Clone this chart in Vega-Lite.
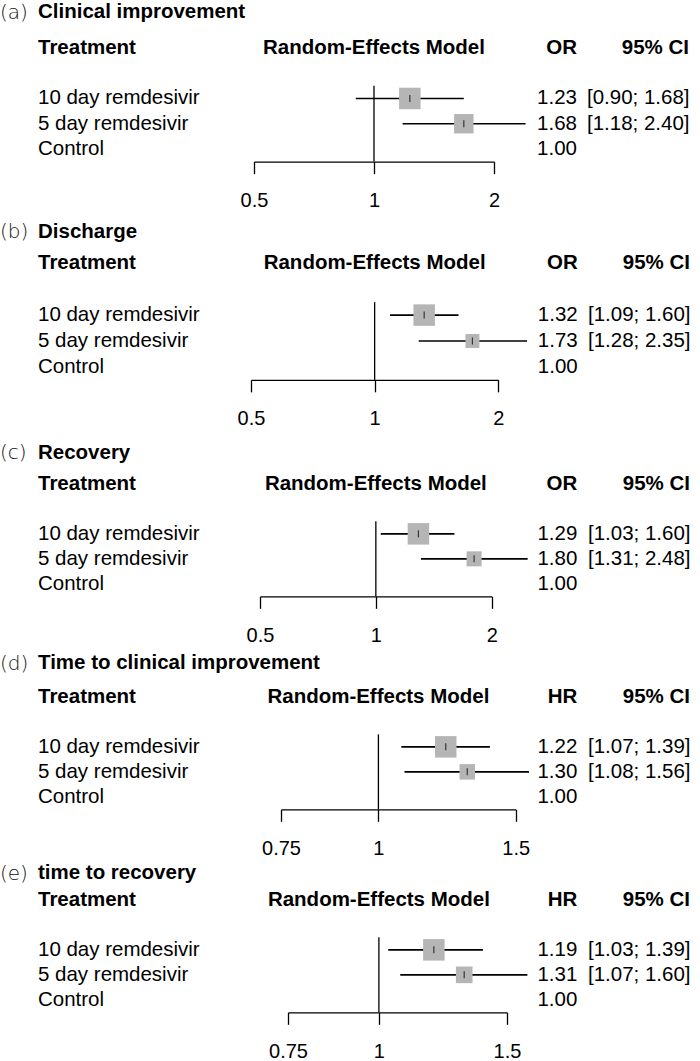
{
"$schema": "https://vega.github.io/schema/vega-lite/v6.json",
"padding": {"left": 0, "top": 2.35, "right": 0, "bottom": 0},
"datasets": {
"a": [{"treatment":"10 day remdesivir","est":1.23,"lo":0.90,"hi":1.68,"weight":100,"ci":"[0.90; 1.68]"},{"treatment":"5 day remdesivir","est":1.68,"lo":1.18,"hi":2.40,"weight":82,"ci":"[1.18; 2.40]"},{"treatment":"Control","est":1.00,"ci":""}],
"b": [{"treatment":"10 day remdesivir","est":1.32,"lo":1.09,"hi":1.60,"weight":100,"ci":"[1.09; 1.60]"},{"treatment":"5 day remdesivir","est":1.73,"lo":1.28,"hi":2.35,"weight":42,"ci":"[1.28; 2.35]"},{"treatment":"Control","est":1.00,"ci":""}],
"c": [{"treatment":"10 day remdesivir","est":1.29,"lo":1.03,"hi":1.60,"weight":100,"ci":"[1.03; 1.60]"},{"treatment":"5 day remdesivir","est":1.80,"lo":1.31,"hi":2.48,"weight":49,"ci":"[1.31; 2.48]"},{"treatment":"Control","est":1.00,"ci":""}],
"d": [{"treatment":"10 day remdesivir","est":1.22,"lo":1.07,"hi":1.39,"weight":100,"ci":"[1.07; 1.39]"},{"treatment":"5 day remdesivir","est":1.30,"lo":1.08,"hi":1.56,"weight":52,"ci":"[1.08; 1.56]"},{"treatment":"Control","est":1.00,"ci":""}],
"e": [{"treatment":"10 day remdesivir","est":1.19,"lo":1.03,"hi":1.39,"weight":100,"ci":"[1.03; 1.39]"},{"treatment":"5 day remdesivir","est":1.31,"lo":1.07,"hi":1.60,"weight":60,"ci":"[1.07; 1.60]"},{"treatment":"Control","est":1.00,"ci":""}]
},
"spacing": 0,
"bounds": "full",
"vconcat": [
{"spacing": 10, "bounds": "flush", "hconcat": [
{"width":28,"height":185.95,"data":{"values":[]},"mark":"point","title":{"text":"(a)","anchor":"start","frame":"group","font":"DejaVu Sans","fontWeight":200,"fontSize":20,"color":"#111","baseline":"alphabetic","offset":-3.6}},
{"width":206,"height":126.25,"title":{"text":"Clinical improvement","anchor":"start","frame":"group","fontWeight":"bold","fontSize":20.5,"color":"#000","baseline":"alphabetic","offset":-3.6},
 "layer":[
  {"data":{"name":"a"},"mark":{"type":"text","align":"left","baseline":"middle"},"encoding":{"x":{"datum":0,"type":"quantitative","scale":{"domain":[0,1]},"axis":null},"y":{"field":"treatment","type":"nominal","scale":{"type":"band","domain":["header","gap","10 day remdesivir","5 day remdesivir","Control"],"paddingInner":0,"paddingOuter":0},"axis":null},"text":{"field":"treatment"}}},
  {"data":{"values":[{"h":"Treatment"}]},"mark":{"type":"text","align":"left","baseline":"middle","fontWeight":"bold"},"encoding":{"x":{"datum":0,"type":"quantitative","scale":{"domain":[0,1]},"axis":null},"y":{"datum":"header","type":"nominal","scale":{"type":"band","domain":["header","gap","10 day remdesivir","5 day remdesivir","Control"],"paddingInner":0,"paddingOuter":0},"axis":null},"text":{"field":"h"}}}
 ]},
{"width":240,"height":126.25,
 "layer":[
  {"data":{"values":[{"from":"10 day remdesivir","to":"Control","ref":1}]},"mark":{"type":"rule","color":"#000","strokeWidth":1.3},"encoding":{"x":{"field":"ref","type":"quantitative","scale":{"type":"log","domain":[0.5,2],"nice":false,"zero":false},"axis":{"values":[0.5,1,2],"format":"~g","title":null}},"y":{"field":"from","type":"nominal","bandPosition":0,"scale":{"type":"band","domain":["header","gap","10 day remdesivir","5 day remdesivir","Control"],"paddingInner":0,"paddingOuter":0},"axis":null},"y2":{"field":"to","bandPosition":1}}},
  {"data":{"name":"a"},"transform":[{"filter":"isValid(datum.lo)"}],"mark":{"type":"rule","color":"#000","strokeWidth":1.6},"encoding":{"x":{"field":"lo","type":"quantitative","scale":{"type":"log","domain":[0.5,2],"nice":false,"zero":false},"axis":{"values":[0.5,1,2],"format":"~g","title":null}},"x2":{"field":"hi"},"y":{"field":"treatment","type":"nominal","scale":{"type":"band","domain":["header","gap","10 day remdesivir","5 day remdesivir","Control"],"paddingInner":0,"paddingOuter":0},"axis":null}}},
  {"data":{"name":"a"},"transform":[{"filter":"isValid(datum.lo)"}],"mark":{"type":"square","filled":true,"color":"#b5b5b5","opacity":1},"encoding":{"x":{"field":"est","type":"quantitative","scale":{"type":"log","domain":[0.5,2],"nice":false,"zero":false},"axis":{"values":[0.5,1,2],"format":"~g","title":null}},"y":{"field":"treatment","type":"nominal","scale":{"type":"band","domain":["header","gap","10 day remdesivir","5 day remdesivir","Control"],"paddingInner":0,"paddingOuter":0},"axis":null},"size":{"field":"weight","type":"quantitative","scale":{"domain":[0,100],"range":[0,462],"zero":true},"legend":null}}},
  {"data":{"name":"a"},"transform":[{"filter":"isValid(datum.lo)"}],"mark":{"type":"tick","color":"#000","size":7,"thickness":1.2,"orient":"vertical"},"encoding":{"x":{"field":"est","type":"quantitative","scale":{"type":"log","domain":[0.5,2],"nice":false,"zero":false},"axis":{"values":[0.5,1,2],"format":"~g","title":null}},"y":{"field":"treatment","type":"nominal","scale":{"type":"band","domain":["header","gap","10 day remdesivir","5 day remdesivir","Control"],"paddingInner":0,"paddingOuter":0},"axis":null}}},
  {"data":{"values":[{"h":"Random-Effects Model","ref":1}]},"mark":{"type":"text","align":"center","baseline":"middle","fontWeight":"bold"},"encoding":{"x":{"field":"ref","type":"quantitative","scale":{"type":"log","domain":[0.5,2],"nice":false,"zero":false},"axis":{"values":[0.5,1,2],"format":"~g","title":null}},"y":{"datum":"header","type":"nominal","scale":{"type":"band","domain":["header","gap","10 day remdesivir","5 day remdesivir","Control"],"paddingInner":0,"paddingOuter":0},"axis":null},"text":{"field":"h"}}}
 ]},
{"width":73,"height":126.25,
 "layer":[
  {"data":{"name":"a"},"mark":{"type":"text","align":"right","baseline":"middle"},"encoding":{"x":{"datum":1,"type":"quantitative","scale":{"domain":[0,1]},"axis":null},"y":{"field":"treatment","type":"nominal","scale":{"type":"band","domain":["header","gap","10 day remdesivir","5 day remdesivir","Control"],"paddingInner":0,"paddingOuter":0},"axis":null},"text":{"field":"est","type":"quantitative","format":".2f"}}},
  {"data":{"values":[{"h":"OR"}]},"mark":{"type":"text","align":"right","baseline":"middle","fontWeight":"bold"},"encoding":{"x":{"datum":1,"type":"quantitative","scale":{"domain":[0,1]},"axis":null},"y":{"datum":"header","type":"nominal","scale":{"type":"band","domain":["header","gap","10 day remdesivir","5 day remdesivir","Control"],"paddingInner":0,"paddingOuter":0},"axis":null},"text":{"field":"h"}}}
 ]},
{"width":102,"height":126.25,
 "layer":[
  {"data":{"name":"a"},"mark":{"type":"text","align":"left","baseline":"middle"},"encoding":{"x":{"datum":0,"type":"quantitative","scale":{"domain":[0,1]},"axis":null},"y":{"field":"treatment","type":"nominal","scale":{"type":"band","domain":["header","gap","10 day remdesivir","5 day remdesivir","Control"],"paddingInner":0,"paddingOuter":0},"axis":null},"text":{"field":"ci"}}},
  {"data":{"values":[{"h":"95% CI"}]},"mark":{"type":"text","align":"right","baseline":"middle","fontWeight":"bold"},"encoding":{"x":{"datum":1,"type":"quantitative","scale":{"domain":[0,1]},"axis":null},"y":{"datum":"header","type":"nominal","scale":{"type":"band","domain":["header","gap","10 day remdesivir","5 day remdesivir","Control"],"paddingInner":0,"paddingOuter":0},"axis":null},"text":{"field":"h"}}}
 ]}
]},

{"spacing": 10, "bounds": "flush", "hconcat": [
{"width":28,"height":191.05,"data":{"values":[]},"mark":"point","title":{"text":"(b)","anchor":"start","frame":"group","font":"DejaVu Sans","fontWeight":200,"fontSize":20,"color":"#111","baseline":"alphabetic","offset":-8}},
{"width":203,"height":129.5,"title":{"text":"Discharge","anchor":"start","frame":"group","fontWeight":"bold","fontSize":20.5,"color":"#000","baseline":"alphabetic","offset":-8},
 "layer":[
  {"data":{"name":"b"},"mark":{"type":"text","align":"left","baseline":"middle"},"encoding":{"x":{"datum":0,"type":"quantitative","scale":{"domain":[0,1]},"axis":null},"y":{"field":"treatment","type":"nominal","scale":{"type":"band","domain":["header","gap","10 day remdesivir","5 day remdesivir","Control"],"paddingInner":0,"paddingOuter":0},"axis":null},"text":{"field":"treatment"}}},
  {"data":{"values":[{"h":"Treatment"}]},"mark":{"type":"text","align":"left","baseline":"middle","fontWeight":"bold"},"encoding":{"x":{"datum":0,"type":"quantitative","scale":{"domain":[0,1]},"axis":null},"y":{"datum":"header","type":"nominal","scale":{"type":"band","domain":["header","gap","10 day remdesivir","5 day remdesivir","Control"],"paddingInner":0,"paddingOuter":0},"axis":null},"text":{"field":"h"}}}
 ]},
{"width":247.3,"height":129.5,
 "layer":[
  {"data":{"values":[{"from":"10 day remdesivir","to":"Control","ref":1}]},"mark":{"type":"rule","color":"#000","strokeWidth":1.3},"encoding":{"x":{"field":"ref","type":"quantitative","scale":{"type":"log","domain":[0.5,2],"nice":false,"zero":false},"axis":{"values":[0.5,1,2],"format":"~g","title":null}},"y":{"field":"from","type":"nominal","bandPosition":0,"scale":{"type":"band","domain":["header","gap","10 day remdesivir","5 day remdesivir","Control"],"paddingInner":0,"paddingOuter":0},"axis":null},"y2":{"field":"to","bandPosition":1}}},
  {"data":{"name":"b"},"transform":[{"filter":"isValid(datum.lo)"}],"mark":{"type":"rule","color":"#000","strokeWidth":1.6},"encoding":{"x":{"field":"lo","type":"quantitative","scale":{"type":"log","domain":[0.5,2],"nice":false,"zero":false},"axis":{"values":[0.5,1,2],"format":"~g","title":null}},"x2":{"field":"hi"},"y":{"field":"treatment","type":"nominal","scale":{"type":"band","domain":["header","gap","10 day remdesivir","5 day remdesivir","Control"],"paddingInner":0,"paddingOuter":0},"axis":null}}},
  {"data":{"name":"b"},"transform":[{"filter":"isValid(datum.lo)"}],"mark":{"type":"square","filled":true,"color":"#b5b5b5","opacity":1},"encoding":{"x":{"field":"est","type":"quantitative","scale":{"type":"log","domain":[0.5,2],"nice":false,"zero":false},"axis":{"values":[0.5,1,2],"format":"~g","title":null}},"y":{"field":"treatment","type":"nominal","scale":{"type":"band","domain":["header","gap","10 day remdesivir","5 day remdesivir","Control"],"paddingInner":0,"paddingOuter":0},"axis":null},"size":{"field":"weight","type":"quantitative","scale":{"domain":[0,100],"range":[0,462],"zero":true},"legend":null}}},
  {"data":{"name":"b"},"transform":[{"filter":"isValid(datum.lo)"}],"mark":{"type":"tick","color":"#000","size":7,"thickness":1.2,"orient":"vertical"},"encoding":{"x":{"field":"est","type":"quantitative","scale":{"type":"log","domain":[0.5,2],"nice":false,"zero":false},"axis":{"values":[0.5,1,2],"format":"~g","title":null}},"y":{"field":"treatment","type":"nominal","scale":{"type":"band","domain":["header","gap","10 day remdesivir","5 day remdesivir","Control"],"paddingInner":0,"paddingOuter":0},"axis":null}}},
  {"data":{"values":[{"h":"Random-Effects Model","ref":1}]},"mark":{"type":"text","align":"center","baseline":"middle","fontWeight":"bold"},"encoding":{"x":{"field":"ref","type":"quantitative","scale":{"type":"log","domain":[0.5,2],"nice":false,"zero":false},"axis":{"values":[0.5,1,2],"format":"~g","title":null}},"y":{"datum":"header","type":"nominal","scale":{"type":"band","domain":["header","gap","10 day remdesivir","5 day remdesivir","Control"],"paddingInner":0,"paddingOuter":0},"axis":null},"text":{"field":"h"}}}
 ]},
{"width":68.7,"height":129.5,
 "layer":[
  {"data":{"name":"b"},"mark":{"type":"text","align":"right","baseline":"middle"},"encoding":{"x":{"datum":1,"type":"quantitative","scale":{"domain":[0,1]},"axis":null},"y":{"field":"treatment","type":"nominal","scale":{"type":"band","domain":["header","gap","10 day remdesivir","5 day remdesivir","Control"],"paddingInner":0,"paddingOuter":0},"axis":null},"text":{"field":"est","type":"quantitative","format":".2f"}}},
  {"data":{"values":[{"h":"OR"}]},"mark":{"type":"text","align":"right","baseline":"middle","fontWeight":"bold"},"encoding":{"x":{"datum":1,"type":"quantitative","scale":{"domain":[0,1]},"axis":null},"y":{"datum":"header","type":"nominal","scale":{"type":"band","domain":["header","gap","10 day remdesivir","5 day remdesivir","Control"],"paddingInner":0,"paddingOuter":0},"axis":null},"text":{"field":"h"}}}
 ]},
{"width":102,"height":129.5,
 "layer":[
  {"data":{"name":"b"},"mark":{"type":"text","align":"left","baseline":"middle"},"encoding":{"x":{"datum":0,"type":"quantitative","scale":{"domain":[0,1]},"axis":null},"y":{"field":"treatment","type":"nominal","scale":{"type":"band","domain":["header","gap","10 day remdesivir","5 day remdesivir","Control"],"paddingInner":0,"paddingOuter":0},"axis":null},"text":{"field":"ci"}}},
  {"data":{"values":[{"h":"95% CI"}]},"mark":{"type":"text","align":"right","baseline":"middle","fontWeight":"bold"},"encoding":{"x":{"datum":1,"type":"quantitative","scale":{"domain":[0,1]},"axis":null},"y":{"datum":"header","type":"nominal","scale":{"type":"band","domain":["header","gap","10 day remdesivir","5 day remdesivir","Control"],"paddingInner":0,"paddingOuter":0},"axis":null},"text":{"field":"h"}}}
 ]}
]},

{"spacing": 10, "bounds": "flush", "hconcat": [
{"width":28,"height":181.25,"data":{"values":[]},"mark":"point","title":{"text":"(c)","anchor":"start","frame":"group","font":"DejaVu Sans","fontWeight":200,"fontSize":20,"color":"#111","baseline":"alphabetic","offset":-7.9}},
{"width":212,"height":125,"title":{"text":"Recovery","anchor":"start","frame":"group","fontWeight":"bold","fontSize":20.5,"color":"#000","baseline":"alphabetic","offset":-7.9},
 "layer":[
  {"data":{"name":"c"},"mark":{"type":"text","align":"left","baseline":"middle"},"encoding":{"x":{"datum":0,"type":"quantitative","scale":{"domain":[0,1]},"axis":null},"y":{"field":"treatment","type":"nominal","scale":{"type":"band","domain":["header","gap","10 day remdesivir","5 day remdesivir","Control"],"paddingInner":0,"paddingOuter":0},"axis":null},"text":{"field":"treatment"}}},
  {"data":{"values":[{"h":"Treatment"}]},"mark":{"type":"text","align":"left","baseline":"middle","fontWeight":"bold"},"encoding":{"x":{"datum":0,"type":"quantitative","scale":{"domain":[0,1]},"axis":null},"y":{"datum":"header","type":"nominal","scale":{"type":"band","domain":["header","gap","10 day remdesivir","5 day remdesivir","Control"],"paddingInner":0,"paddingOuter":0},"axis":null},"text":{"field":"h"}}}
 ]},
{"width":231.7,"height":125,
 "layer":[
  {"data":{"values":[{"from":"10 day remdesivir","to":"Control","ref":1}]},"mark":{"type":"rule","color":"#000","strokeWidth":1.3},"encoding":{"x":{"field":"ref","type":"quantitative","scale":{"type":"log","domain":[0.5,2],"nice":false,"zero":false},"axis":{"values":[0.5,1,2],"format":"~g","title":null}},"y":{"field":"from","type":"nominal","bandPosition":0,"scale":{"type":"band","domain":["header","gap","10 day remdesivir","5 day remdesivir","Control"],"paddingInner":0,"paddingOuter":0},"axis":null},"y2":{"field":"to","bandPosition":1}}},
  {"data":{"name":"c"},"transform":[{"filter":"isValid(datum.lo)"}],"mark":{"type":"rule","color":"#000","strokeWidth":1.6},"encoding":{"x":{"field":"lo","type":"quantitative","scale":{"type":"log","domain":[0.5,2],"nice":false,"zero":false},"axis":{"values":[0.5,1,2],"format":"~g","title":null}},"x2":{"field":"hi"},"y":{"field":"treatment","type":"nominal","scale":{"type":"band","domain":["header","gap","10 day remdesivir","5 day remdesivir","Control"],"paddingInner":0,"paddingOuter":0},"axis":null}}},
  {"data":{"name":"c"},"transform":[{"filter":"isValid(datum.lo)"}],"mark":{"type":"square","filled":true,"color":"#b5b5b5","opacity":1},"encoding":{"x":{"field":"est","type":"quantitative","scale":{"type":"log","domain":[0.5,2],"nice":false,"zero":false},"axis":{"values":[0.5,1,2],"format":"~g","title":null}},"y":{"field":"treatment","type":"nominal","scale":{"type":"band","domain":["header","gap","10 day remdesivir","5 day remdesivir","Control"],"paddingInner":0,"paddingOuter":0},"axis":null},"size":{"field":"weight","type":"quantitative","scale":{"domain":[0,100],"range":[0,462],"zero":true},"legend":null}}},
  {"data":{"name":"c"},"transform":[{"filter":"isValid(datum.lo)"}],"mark":{"type":"tick","color":"#000","size":7,"thickness":1.2,"orient":"vertical"},"encoding":{"x":{"field":"est","type":"quantitative","scale":{"type":"log","domain":[0.5,2],"nice":false,"zero":false},"axis":{"values":[0.5,1,2],"format":"~g","title":null}},"y":{"field":"treatment","type":"nominal","scale":{"type":"band","domain":["header","gap","10 day remdesivir","5 day remdesivir","Control"],"paddingInner":0,"paddingOuter":0},"axis":null}}},
  {"data":{"values":[{"h":"Random-Effects Model","ref":1}]},"mark":{"type":"text","align":"center","baseline":"middle","fontWeight":"bold"},"encoding":{"x":{"field":"ref","type":"quantitative","scale":{"type":"log","domain":[0.5,2],"nice":false,"zero":false},"axis":{"values":[0.5,1,2],"format":"~g","title":null}},"y":{"datum":"header","type":"nominal","scale":{"type":"band","domain":["header","gap","10 day remdesivir","5 day remdesivir","Control"],"paddingInner":0,"paddingOuter":0},"axis":null},"text":{"field":"h"}}}
 ]},
{"width":75.3,"height":125,
 "layer":[
  {"data":{"name":"c"},"mark":{"type":"text","align":"right","baseline":"middle"},"encoding":{"x":{"datum":1,"type":"quantitative","scale":{"domain":[0,1]},"axis":null},"y":{"field":"treatment","type":"nominal","scale":{"type":"band","domain":["header","gap","10 day remdesivir","5 day remdesivir","Control"],"paddingInner":0,"paddingOuter":0},"axis":null},"text":{"field":"est","type":"quantitative","format":".2f"}}},
  {"data":{"values":[{"h":"OR"}]},"mark":{"type":"text","align":"right","baseline":"middle","fontWeight":"bold"},"encoding":{"x":{"datum":1,"type":"quantitative","scale":{"domain":[0,1]},"axis":null},"y":{"datum":"header","type":"nominal","scale":{"type":"band","domain":["header","gap","10 day remdesivir","5 day remdesivir","Control"],"paddingInner":0,"paddingOuter":0},"axis":null},"text":{"field":"h"}}}
 ]},
{"width":102,"height":125,
 "layer":[
  {"data":{"name":"c"},"mark":{"type":"text","align":"left","baseline":"middle"},"encoding":{"x":{"datum":0,"type":"quantitative","scale":{"domain":[0,1]},"axis":null},"y":{"field":"treatment","type":"nominal","scale":{"type":"band","domain":["header","gap","10 day remdesivir","5 day remdesivir","Control"],"paddingInner":0,"paddingOuter":0},"axis":null},"text":{"field":"ci"}}},
  {"data":{"values":[{"h":"95% CI"}]},"mark":{"type":"text","align":"right","baseline":"middle","fontWeight":"bold"},"encoding":{"x":{"datum":1,"type":"quantitative","scale":{"domain":[0,1]},"axis":null},"y":{"datum":"header","type":"nominal","scale":{"type":"band","domain":["header","gap","10 day remdesivir","5 day remdesivir","Control"],"paddingInner":0,"paddingOuter":0},"axis":null},"text":{"field":"h"}}}
 ]}
]},

{"spacing": 10, "bounds": "flush", "hconcat": [
{"width":28,"height":178.85,"data":{"values":[]},"mark":"point","title":{"text":"(d)","anchor":"start","frame":"group","font":"DejaVu Sans","fontWeight":200,"fontSize":20,"color":"#111","baseline":"alphabetic","offset":-5.5}},
{"width":233,"height":125,"title":{"text":"Time to clinical improvement","anchor":"start","frame":"group","fontWeight":"bold","fontSize":20.5,"color":"#000","baseline":"alphabetic","offset":-5.5},
 "layer":[
  {"data":{"name":"d"},"mark":{"type":"text","align":"left","baseline":"middle"},"encoding":{"x":{"datum":0,"type":"quantitative","scale":{"domain":[0,1]},"axis":null},"y":{"field":"treatment","type":"nominal","scale":{"type":"band","domain":["header","gap","10 day remdesivir","5 day remdesivir","Control"],"paddingInner":0,"paddingOuter":0},"axis":null},"text":{"field":"treatment"}}},
  {"data":{"values":[{"h":"Treatment"}]},"mark":{"type":"text","align":"left","baseline":"middle","fontWeight":"bold"},"encoding":{"x":{"datum":0,"type":"quantitative","scale":{"domain":[0,1]},"axis":null},"y":{"datum":"header","type":"nominal","scale":{"type":"band","domain":["header","gap","10 day remdesivir","5 day remdesivir","Control"],"paddingInner":0,"paddingOuter":0},"axis":null},"text":{"field":"h"}}}
 ]},
{"width":234.7,"height":125,
 "layer":[
  {"data":{"values":[{"from":"10 day remdesivir","to":"Control","ref":1}]},"mark":{"type":"rule","color":"#000","strokeWidth":1.3},"encoding":{"x":{"field":"ref","type":"quantitative","scale":{"type":"log","domain":[0.75,1.5],"nice":false,"zero":false},"axis":{"values":[0.75,1,1.5],"format":"~g","title":null}},"y":{"field":"from","type":"nominal","bandPosition":0,"scale":{"type":"band","domain":["header","gap","10 day remdesivir","5 day remdesivir","Control"],"paddingInner":0,"paddingOuter":0},"axis":null},"y2":{"field":"to","bandPosition":1}}},
  {"data":{"name":"d"},"transform":[{"filter":"isValid(datum.lo)"}],"mark":{"type":"rule","color":"#000","strokeWidth":1.6},"encoding":{"x":{"field":"lo","type":"quantitative","scale":{"type":"log","domain":[0.75,1.5],"nice":false,"zero":false},"axis":{"values":[0.75,1,1.5],"format":"~g","title":null}},"x2":{"field":"hi"},"y":{"field":"treatment","type":"nominal","scale":{"type":"band","domain":["header","gap","10 day remdesivir","5 day remdesivir","Control"],"paddingInner":0,"paddingOuter":0},"axis":null}}},
  {"data":{"name":"d"},"transform":[{"filter":"isValid(datum.lo)"}],"mark":{"type":"square","filled":true,"color":"#b5b5b5","opacity":1},"encoding":{"x":{"field":"est","type":"quantitative","scale":{"type":"log","domain":[0.75,1.5],"nice":false,"zero":false},"axis":{"values":[0.75,1,1.5],"format":"~g","title":null}},"y":{"field":"treatment","type":"nominal","scale":{"type":"band","domain":["header","gap","10 day remdesivir","5 day remdesivir","Control"],"paddingInner":0,"paddingOuter":0},"axis":null},"size":{"field":"weight","type":"quantitative","scale":{"domain":[0,100],"range":[0,462],"zero":true},"legend":null}}},
  {"data":{"name":"d"},"transform":[{"filter":"isValid(datum.lo)"}],"mark":{"type":"tick","color":"#000","size":7,"thickness":1.2,"orient":"vertical"},"encoding":{"x":{"field":"est","type":"quantitative","scale":{"type":"log","domain":[0.75,1.5],"nice":false,"zero":false},"axis":{"values":[0.75,1,1.5],"format":"~g","title":null}},"y":{"field":"treatment","type":"nominal","scale":{"type":"band","domain":["header","gap","10 day remdesivir","5 day remdesivir","Control"],"paddingInner":0,"paddingOuter":0},"axis":null}}},
  {"data":{"values":[{"h":"Random-Effects Model","ref":1}]},"mark":{"type":"text","align":"center","baseline":"middle","fontWeight":"bold"},"encoding":{"x":{"field":"ref","type":"quantitative","scale":{"type":"log","domain":[0.75,1.5],"nice":false,"zero":false},"axis":{"values":[0.75,1,1.5],"format":"~g","title":null}},"y":{"datum":"header","type":"nominal","scale":{"type":"band","domain":["header","gap","10 day remdesivir","5 day remdesivir","Control"],"paddingInner":0,"paddingOuter":0},"axis":null},"text":{"field":"h"}}}
 ]},
{"width":51.3,"height":125,
 "layer":[
  {"data":{"name":"d"},"mark":{"type":"text","align":"right","baseline":"middle"},"encoding":{"x":{"datum":1,"type":"quantitative","scale":{"domain":[0,1]},"axis":null},"y":{"field":"treatment","type":"nominal","scale":{"type":"band","domain":["header","gap","10 day remdesivir","5 day remdesivir","Control"],"paddingInner":0,"paddingOuter":0},"axis":null},"text":{"field":"est","type":"quantitative","format":".2f"}}},
  {"data":{"values":[{"h":"HR"}]},"mark":{"type":"text","align":"right","baseline":"middle","fontWeight":"bold"},"encoding":{"x":{"datum":1,"type":"quantitative","scale":{"domain":[0,1]},"axis":null},"y":{"datum":"header","type":"nominal","scale":{"type":"band","domain":["header","gap","10 day remdesivir","5 day remdesivir","Control"],"paddingInner":0,"paddingOuter":0},"axis":null},"text":{"field":"h"}}}
 ]},
{"width":102,"height":125,
 "layer":[
  {"data":{"name":"d"},"mark":{"type":"text","align":"left","baseline":"middle"},"encoding":{"x":{"datum":0,"type":"quantitative","scale":{"domain":[0,1]},"axis":null},"y":{"field":"treatment","type":"nominal","scale":{"type":"band","domain":["header","gap","10 day remdesivir","5 day remdesivir","Control"],"paddingInner":0,"paddingOuter":0},"axis":null},"text":{"field":"ci"}}},
  {"data":{"values":[{"h":"95% CI"}]},"mark":{"type":"text","align":"right","baseline":"middle","fontWeight":"bold"},"encoding":{"x":{"datum":1,"type":"quantitative","scale":{"domain":[0,1]},"axis":null},"y":{"datum":"header","type":"nominal","scale":{"type":"band","domain":["header","gap","10 day remdesivir","5 day remdesivir","Control"],"paddingInner":0,"paddingOuter":0},"axis":null},"text":{"field":"h"}}}
 ]}
]},

{"spacing": 10, "bounds": "flush", "hconcat": [
{"width":28,"height":125,"data":{"values":[]},"mark":"point","title":{"text":"(e)","anchor":"start","frame":"group","font":"DejaVu Sans","fontWeight":200,"fontSize":20,"color":"#111","baseline":"alphabetic","offset":-12.5}},
{"width":239.7,"height":125,"title":{"text":"time to recovery","anchor":"start","frame":"group","fontWeight":"bold","fontSize":20.5,"color":"#000","baseline":"alphabetic","offset":-12.5},
 "layer":[
  {"data":{"name":"e"},"mark":{"type":"text","align":"left","baseline":"middle"},"encoding":{"x":{"datum":0,"type":"quantitative","scale":{"domain":[0,1]},"axis":null},"y":{"field":"treatment","type":"nominal","scale":{"type":"band","domain":["header","gap","10 day remdesivir","5 day remdesivir","Control"],"paddingInner":0,"paddingOuter":0},"axis":null},"text":{"field":"treatment"}}},
  {"data":{"values":[{"h":"Treatment"}]},"mark":{"type":"text","align":"left","baseline":"middle","fontWeight":"bold"},"encoding":{"x":{"datum":0,"type":"quantitative","scale":{"domain":[0,1]},"axis":null},"y":{"datum":"header","type":"nominal","scale":{"type":"band","domain":["header","gap","10 day remdesivir","5 day remdesivir","Control"],"paddingInner":0,"paddingOuter":0},"axis":null},"text":{"field":"h"}}}
 ]},
{"width":219,"height":125,
 "layer":[
  {"data":{"values":[{"from":"10 day remdesivir","to":"Control","ref":1}]},"mark":{"type":"rule","color":"#000","strokeWidth":1.3},"encoding":{"x":{"field":"ref","type":"quantitative","scale":{"type":"log","domain":[0.75,1.5],"nice":false,"zero":false},"axis":{"values":[0.75,1,1.5],"format":"~g","title":null}},"y":{"field":"from","type":"nominal","bandPosition":0,"scale":{"type":"band","domain":["header","gap","10 day remdesivir","5 day remdesivir","Control"],"paddingInner":0,"paddingOuter":0},"axis":null},"y2":{"field":"to","bandPosition":1}}},
  {"data":{"name":"e"},"transform":[{"filter":"isValid(datum.lo)"}],"mark":{"type":"rule","color":"#000","strokeWidth":1.6},"encoding":{"x":{"field":"lo","type":"quantitative","scale":{"type":"log","domain":[0.75,1.5],"nice":false,"zero":false},"axis":{"values":[0.75,1,1.5],"format":"~g","title":null}},"x2":{"field":"hi"},"y":{"field":"treatment","type":"nominal","scale":{"type":"band","domain":["header","gap","10 day remdesivir","5 day remdesivir","Control"],"paddingInner":0,"paddingOuter":0},"axis":null}}},
  {"data":{"name":"e"},"transform":[{"filter":"isValid(datum.lo)"}],"mark":{"type":"square","filled":true,"color":"#b5b5b5","opacity":1},"encoding":{"x":{"field":"est","type":"quantitative","scale":{"type":"log","domain":[0.75,1.5],"nice":false,"zero":false},"axis":{"values":[0.75,1,1.5],"format":"~g","title":null}},"y":{"field":"treatment","type":"nominal","scale":{"type":"band","domain":["header","gap","10 day remdesivir","5 day remdesivir","Control"],"paddingInner":0,"paddingOuter":0},"axis":null},"size":{"field":"weight","type":"quantitative","scale":{"domain":[0,100],"range":[0,462],"zero":true},"legend":null}}},
  {"data":{"name":"e"},"transform":[{"filter":"isValid(datum.lo)"}],"mark":{"type":"tick","color":"#000","size":7,"thickness":1.2,"orient":"vertical"},"encoding":{"x":{"field":"est","type":"quantitative","scale":{"type":"log","domain":[0.75,1.5],"nice":false,"zero":false},"axis":{"values":[0.75,1,1.5],"format":"~g","title":null}},"y":{"field":"treatment","type":"nominal","scale":{"type":"band","domain":["header","gap","10 day remdesivir","5 day remdesivir","Control"],"paddingInner":0,"paddingOuter":0},"axis":null}}},
  {"data":{"values":[{"h":"Random-Effects Model","ref":1}]},"mark":{"type":"text","align":"center","baseline":"middle","fontWeight":"bold"},"encoding":{"x":{"field":"ref","type":"quantitative","scale":{"type":"log","domain":[0.75,1.5],"nice":false,"zero":false},"axis":{"values":[0.75,1,1.5],"format":"~g","title":null}},"y":{"datum":"header","type":"nominal","scale":{"type":"band","domain":["header","gap","10 day remdesivir","5 day remdesivir","Control"],"paddingInner":0,"paddingOuter":0},"axis":null},"text":{"field":"h"}}}
 ]},
{"width":60.3,"height":125,
 "layer":[
  {"data":{"name":"e"},"mark":{"type":"text","align":"right","baseline":"middle"},"encoding":{"x":{"datum":1,"type":"quantitative","scale":{"domain":[0,1]},"axis":null},"y":{"field":"treatment","type":"nominal","scale":{"type":"band","domain":["header","gap","10 day remdesivir","5 day remdesivir","Control"],"paddingInner":0,"paddingOuter":0},"axis":null},"text":{"field":"est","type":"quantitative","format":".2f"}}},
  {"data":{"values":[{"h":"HR"}]},"mark":{"type":"text","align":"right","baseline":"middle","fontWeight":"bold"},"encoding":{"x":{"datum":1,"type":"quantitative","scale":{"domain":[0,1]},"axis":null},"y":{"datum":"header","type":"nominal","scale":{"type":"band","domain":["header","gap","10 day remdesivir","5 day remdesivir","Control"],"paddingInner":0,"paddingOuter":0},"axis":null},"text":{"field":"h"}}}
 ]},
{"width":102,"height":125,
 "layer":[
  {"data":{"name":"e"},"mark":{"type":"text","align":"left","baseline":"middle"},"encoding":{"x":{"datum":0,"type":"quantitative","scale":{"domain":[0,1]},"axis":null},"y":{"field":"treatment","type":"nominal","scale":{"type":"band","domain":["header","gap","10 day remdesivir","5 day remdesivir","Control"],"paddingInner":0,"paddingOuter":0},"axis":null},"text":{"field":"ci"}}},
  {"data":{"values":[{"h":"95% CI"}]},"mark":{"type":"text","align":"right","baseline":"middle","fontWeight":"bold"},"encoding":{"x":{"datum":1,"type":"quantitative","scale":{"domain":[0,1]},"axis":null},"y":{"datum":"header","type":"nominal","scale":{"type":"band","domain":["header","gap","10 day remdesivir","5 day remdesivir","Control"],"paddingInner":0,"paddingOuter":0},"axis":null},"text":{"field":"h"}}}
 ]}
]}
],
"config": {
 "view": {"stroke": null},
 "font": "Liberation Sans",
 "text": {"fontSize": 20.5, "color": "#000", "font": "Liberation Sans"},
 "axis": {"domainColor": "#000", "domainWidth": 1.3, "tickColor": "#000", "tickWidth": 1.3, "tickSize": 12, "labelFontSize": 20, "labelColor": "#000", "labelFont": "Liberation Sans", "labelPadding": 17, "grid": false, "labelFlush": false, "labelOverlap": false},
 "title": {"color": "#000"}
}
}
